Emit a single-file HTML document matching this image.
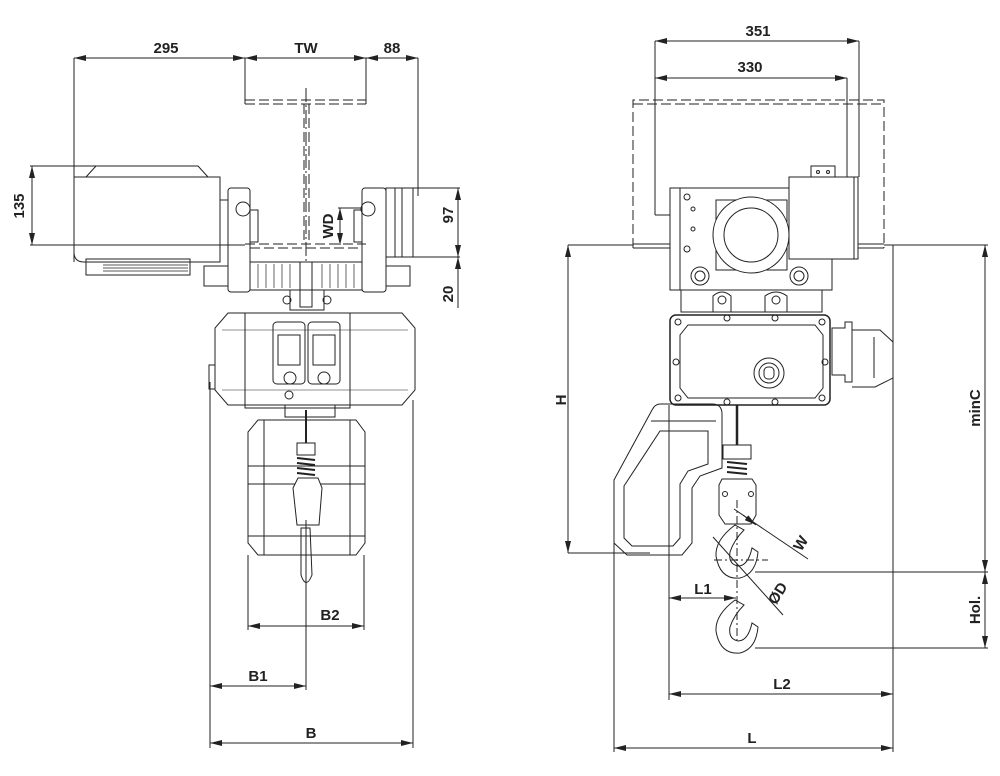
<!DOCTYPE html>
<html><head><meta charset="utf-8"><style>
html,body{margin:0;padding:0;background:#fff}
svg{display:block}
text{font-family:"Liberation Sans",Arial,sans-serif;font-weight:bold;font-size:15px;fill:#222}
</style></head><body>
<svg width="1000" height="776" viewBox="0 0 1000 776" xmlns="http://www.w3.org/2000/svg">
<defs>
<marker id="a" viewBox="0 0 12 6" refX="12" refY="3" markerWidth="12" markerHeight="6" orient="auto-start-reverse" markerUnits="userSpaceOnUse"><path d="M0,0L12,3L0,6z" fill="#222"/></marker>
</defs>
<g stroke="#222" stroke-width="1" fill="none">
<!-- ===== LEFT VIEW ===== -->
<!-- dims top -->
<line x1="74" y1="58" x2="245" y2="58" marker-start="url(#a)" marker-end="url(#a)"/>
<line x1="245" y1="58" x2="366" y2="58" marker-start="url(#a)" marker-end="url(#a)"/>
<line x1="366" y1="58" x2="418" y2="58" marker-start="url(#a)" marker-end="url(#a)"/>
<line x1="74" y1="58" x2="74" y2="262"/>
<line x1="245" y1="58" x2="245" y2="104"/>
<line x1="366" y1="58" x2="366" y2="104"/>
<line x1="418" y1="58" x2="418" y2="196"/>
<!-- I-beam dashed -->
<g stroke-dasharray="10,4">
<line x1="245" y1="100" x2="366" y2="100"/>
<line x1="245" y1="104" x2="366" y2="104"/>
<line x1="304" y1="104" x2="304" y2="240"/>
<line x1="309" y1="104" x2="309" y2="240"/>
<line x1="245" y1="244" x2="366" y2="244"/>
<line x1="250" y1="248" x2="362" y2="248"/>
</g>
<line x1="306" y1="88" x2="306" y2="262" stroke-dasharray="14,3,2,3"/>
<!-- motor -->
<path d="M74,177H220V262H84Q74,262 74,252Z"/>
<path d="M86,177L96,166H198L208,177"/>
<rect x="86" y="259" width="104" height="16"/>
<g stroke-width="0.8">
<line x1="103" y1="262" x2="188" y2="262"/><line x1="103" y1="265" x2="188" y2="265"/><line x1="103" y1="268" x2="188" y2="268"/><line x1="103" y1="271" x2="188" y2="271"/>
</g>
<line x1="220" y1="200" x2="228" y2="200"/>
<!-- 135 dim -->
<line x1="32" y1="166" x2="32" y2="245" marker-start="url(#a)" marker-end="url(#a)"/>
<line x1="30" y1="166" x2="96" y2="166"/>
<line x1="30" y1="245" x2="245" y2="245"/>
<!-- trolley plates -->
<rect x="228" y="188" width="22" height="104" rx="3"/>
<rect x="362" y="188" width="24" height="104" rx="3"/>
<rect x="386" y="188" width="27" height="69"/>
<line x1="395" y1="188" x2="395" y2="257"/><line x1="402" y1="188" x2="402" y2="257"/>
<circle cx="243" cy="209" r="7"/><circle cx="368" cy="209" r="7"/>
<rect x="250" y="210" width="8" height="32"/>
<rect x="354" y="210" width="8" height="32"/>
<rect x="250" y="262" width="112" height="28"/>
<g stroke-width="0.7">
<line x1="258" y1="264" x2="258" y2="288"/><line x1="266" y1="264" x2="266" y2="288"/><line x1="274" y1="264" x2="274" y2="288"/><line x1="282" y1="264" x2="282" y2="288"/><line x1="290" y1="264" x2="290" y2="288"/><line x1="322" y1="264" x2="322" y2="288"/><line x1="330" y1="264" x2="330" y2="288"/><line x1="338" y1="264" x2="338" y2="288"/><line x1="346" y1="264" x2="346" y2="288"/><line x1="354" y1="264" x2="354" y2="288"/>
</g>
<rect x="300" y="262" width="12" height="45"/>
<rect x="204" y="266" width="24" height="20"/><rect x="386" y="266" width="24" height="20"/>
<path d="M290,290V310H324V290"/>
<circle cx="287" cy="300" r="4"/><circle cx="327" cy="300" r="4"/>
<!-- 97 / 20 dims -->
<line x1="413" y1="188" x2="460" y2="188"/>
<line x1="413" y1="257" x2="460" y2="257"/>
<line x1="458" y1="188" x2="458" y2="257" marker-start="url(#a)" marker-end="url(#a)"/>
<line x1="458" y1="257" x2="458" y2="308" marker-start="url(#a)"/>
<!-- WD -->
<line x1="338" y1="208" x2="362" y2="208"/>
<line x1="340" y1="208" x2="340" y2="245" marker-start="url(#a)" marker-end="url(#a)"/>
<!-- hoist body -->
<path d="M228,313H402L415,328V390L402,405H228L215,390V328Z"/>
<line x1="222" y1="330" x2="408" y2="330" stroke-width="0.6"/>
<line x1="222" y1="390" x2="408" y2="390" stroke-width="0.6"/>
<rect x="245" y="313" width="105" height="95"/>
<rect x="209" y="365" width="6" height="24"/>
<rect x="273" y="322" width="32" height="62" rx="4"/><rect x="308" y="322" width="32" height="62" rx="4"/>
<rect x="278" y="335" width="22" height="30"/><rect x="313" y="335" width="22" height="30"/>
<circle cx="290" cy="378" r="6"/><circle cx="324" cy="378" r="6"/>
<circle cx="289" cy="395" r="4"/>
<rect x="285" y="405" width="50" height="12"/>
<!-- bag -->
<path d="M258,420H356L365,432V543L356,555H258L248,543V432Z"/>
<line x1="264" y1="420" x2="264" y2="555"/><line x1="350" y1="420" x2="350" y2="555"/>
<line x1="248" y1="466" x2="365" y2="466"/><line x1="248" y1="484" x2="365" y2="484"/>
<line x1="248" y1="536" x2="365" y2="536"/>
<line x1="306" y1="410" x2="306" y2="443" stroke-width="2"/>
<rect x="297" y="443" width="18" height="12"/>
<g stroke-width="2"><line x1="297" y1="458" x2="315" y2="460"/><line x1="297" y1="463" x2="315" y2="465"/><line x1="297" y1="468" x2="315" y2="470"/><line x1="297" y1="473" x2="315" y2="475"/></g>
<path d="M298,478H318L322,488L319,525H297L293,488Z" fill="#fff"/>
<path d="M301,528L310,528L312,575Q306,590 301,575Z"/>
<line x1="306" y1="520" x2="306" y2="690"/>
<!-- B dims -->
<line x1="248" y1="555" x2="248" y2="630"/><line x1="364" y1="555" x2="364" y2="630"/>
<line x1="248" y1="626" x2="364" y2="626" marker-start="url(#a)" marker-end="url(#a)"/>
<line x1="210" y1="382" x2="210" y2="748"/><line x1="413" y1="400" x2="413" y2="748"/>
<line x1="210" y1="686" x2="306" y2="686" marker-start="url(#a)" marker-end="url(#a)"/>
<line x1="210" y1="743" x2="413" y2="743" marker-start="url(#a)" marker-end="url(#a)"/>

<!-- ===== RIGHT VIEW ===== -->
<line x1="655" y1="41" x2="859" y2="41" marker-start="url(#a)" marker-end="url(#a)"/>
<line x1="655" y1="78" x2="847" y2="78" marker-start="url(#a)" marker-end="url(#a)"/>
<line x1="655" y1="41" x2="655" y2="215"/>
<line x1="859" y1="41" x2="859" y2="177"/>
<line x1="847" y1="78" x2="847" y2="215"/>
<line x1="655" y1="215" x2="670" y2="215"/><line x1="832" y1="215" x2="847" y2="215"/>
<g stroke-dasharray="10,4">
<path d="M633,248V100H884V248"/>
<line x1="633" y1="104" x2="884" y2="104"/>
<line x1="806" y1="188" x2="806" y2="259"/><line x1="832" y1="188" x2="832" y2="259"/>
<line x1="760" y1="188" x2="832" y2="188"/>
</g>
<line x1="633" y1="244" x2="670" y2="244"/><line x1="633" y1="248" x2="670" y2="248"/>
<line x1="858" y1="244" x2="884" y2="244"/><line x1="858" y1="248" x2="884" y2="248"/>
<!-- trolley -->
<rect x="670" y="188" width="162" height="102"/>
<line x1="680" y1="188" x2="680" y2="290"/>
<circle cx="687" cy="197" r="3"/><circle cx="693" cy="209" r="2"/><circle cx="693" cy="229" r="2"/><circle cx="687" cy="249" r="3"/>
<rect x="716" y="200" width="71" height="70"/>
<circle cx="751" cy="235" r="38" fill="#fff"/><circle cx="751" cy="235" r="27"/>
<circle cx="700" cy="276" r="9"/><circle cx="700" cy="276" r="5"/>
<circle cx="799" cy="276" r="9"/><circle cx="799" cy="276" r="5"/>
<rect x="789" y="177" width="69" height="82" fill="#fff"/>
<line x1="854" y1="177" x2="854" y2="259"/>
<rect x="811" y="166" width="24" height="11"/>
<circle cx="818" cy="172" r="1.5"/><circle cx="828" cy="172" r="1.5"/>
<path d="M681,290V312H822V290"/>
<path d="M713,312V296Q722,288 731,296V312"/><circle cx="722" cy="300" r="4"/>
<path d="M765,312V296Q776,288 787,296V312"/><circle cx="776" cy="300" r="4"/>
<!-- hoist box -->
<rect x="670" y="315" width="160" height="90" rx="6" stroke-width="1.5"/>
<path d="M688,325H815L823,335V388L815,398H688L680,388V335Z"/>
<circle cx="769" cy="373" r="15"/><circle cx="769" cy="373" r="10"/><rect x="764" y="367" width="10" height="12" rx="4"/>
<g><circle cx="678" cy="322" r="3"/><circle cx="822" cy="322" r="3"/><circle cx="678" cy="398" r="3"/><circle cx="822" cy="398" r="3"/><circle cx="727" cy="318" r="3"/><circle cx="775" cy="318" r="3"/><circle cx="727" cy="402" r="3"/><circle cx="775" cy="402" r="3"/><circle cx="676" cy="362" r="3"/><circle cx="825" cy="362" r="3"/></g>
<path d="M832,328L845,328L845,322L852,322V382H845V375H832Z"/>
<path d="M852,330L880,330L893,342V378L875,387H852"/>
<line x1="874" y1="337" x2="874" y2="378"/>
<!-- handle -->
<path d="M660,404H712Q722,404 722,414V468L700,476L692,488V543L682,555H627L614,543V480L652,410Q655,404 660,404Z"/>
<path d="M660,431H708V464L688,471L680,484V538L673,546H632L624,538V486Z"/>
<path d="M651,421H716"/>
<!-- chain & block -->
<line x1="737" y1="405" x2="737" y2="445" stroke-width="2.5"/>
<rect x="723" y="445" width="28" height="14"/>
<g stroke-width="2"><line x1="727" y1="462" x2="747" y2="464"/><line x1="727" y1="467" x2="747" y2="469"/><line x1="727" y1="472" x2="747" y2="474"/></g>
<path d="M722,479H752L756,485V515L751,524H725L719,515V485Z" fill="#fff"/>
<circle cx="725" cy="494" r="2.5"/><circle cx="751" cy="494" r="2.5"/>
<!-- hooks -->
<path d="M735,525Q715,540 716,556Q720,580 740,578Q756,574 758,552L752,548Q748,566 738,566Q728,564 730,552Q734,540 744,530Z"/>
<path d="M735,600Q715,615 716,631Q720,655 740,653Q756,649 758,627L752,623Q748,641 738,641Q728,639 730,627Q734,615 744,605Z"/>
<line x1="714" y1="560" x2="768" y2="560" stroke-dasharray="8,3,2,3"/>
<line x1="737" y1="500" x2="737" y2="640" stroke-dasharray="8,3,2,3"/>
<line x1="734" y1="509" x2="808" y2="559"/>
<line x1="713" y1="537" x2="783" y2="615"/>
<line x1="743" y1="515" x2="756" y2="525" marker-end="url(#a)"/>
<!-- right dims -->
<line x1="568" y1="245" x2="633" y2="245"/>
<line x1="884" y1="245" x2="988" y2="245"/>
<line x1="568" y1="553" x2="650" y2="553"/>
<line x1="568" y1="245" x2="568" y2="553" marker-start="url(#a)" marker-end="url(#a)"/>
<line x1="755" y1="572" x2="988" y2="572"/>
<line x1="755" y1="648" x2="988" y2="648"/>
<line x1="985" y1="245" x2="985" y2="572" marker-start="url(#a)" marker-end="url(#a)"/>
<line x1="985" y1="572" x2="985" y2="648" marker-start="url(#a)" marker-end="url(#a)"/>
<line x1="669" y1="405" x2="669" y2="700"/>
<line x1="893" y1="245" x2="893" y2="752"/>
<line x1="614" y1="540" x2="614" y2="752"/>
<line x1="669" y1="598" x2="736" y2="598" marker-start="url(#a)" marker-end="url(#a)"/>
<line x1="669" y1="694" x2="893" y2="694" marker-start="url(#a)" marker-end="url(#a)"/>
<line x1="614" y1="748" x2="893" y2="748" marker-start="url(#a)" marker-end="url(#a)"/>
</g>
<!-- labels -->
<text x="166" y="53" text-anchor="middle">295</text>
<text x="306" y="53" text-anchor="middle">TW</text>
<text x="392" y="53" text-anchor="middle">88</text>
<text transform="translate(24,206) rotate(-90)" text-anchor="middle">135</text>
<text transform="translate(333,226) rotate(-90)" text-anchor="middle">WD</text>
<text transform="translate(453,215) rotate(-90)" text-anchor="middle">97</text>
<text transform="translate(453,294) rotate(-90)" text-anchor="middle">20</text>
<text x="330" y="620" text-anchor="middle">B2</text>
<text x="258" y="681" text-anchor="middle">B1</text>
<text x="311" y="738" text-anchor="middle">B</text>
<text x="758" y="36" text-anchor="middle">351</text>
<text x="750" y="72" text-anchor="middle">330</text>
<text transform="translate(566,400) rotate(-90)" text-anchor="middle">H</text>
<text transform="translate(980,408) rotate(-90)" text-anchor="middle">minC</text>
<text transform="translate(980,610) rotate(-90)" text-anchor="middle">Hol.</text>
<text transform="translate(805,546) rotate(-58)" text-anchor="middle">W</text>
<text transform="translate(782,596) rotate(-58)" text-anchor="middle">ØD</text>
<text x="703" y="594" text-anchor="middle">L1</text>
<text x="782" y="689" text-anchor="middle">L2</text>
<text x="752" y="743" text-anchor="middle">L</text>
</svg>
</body></html>
